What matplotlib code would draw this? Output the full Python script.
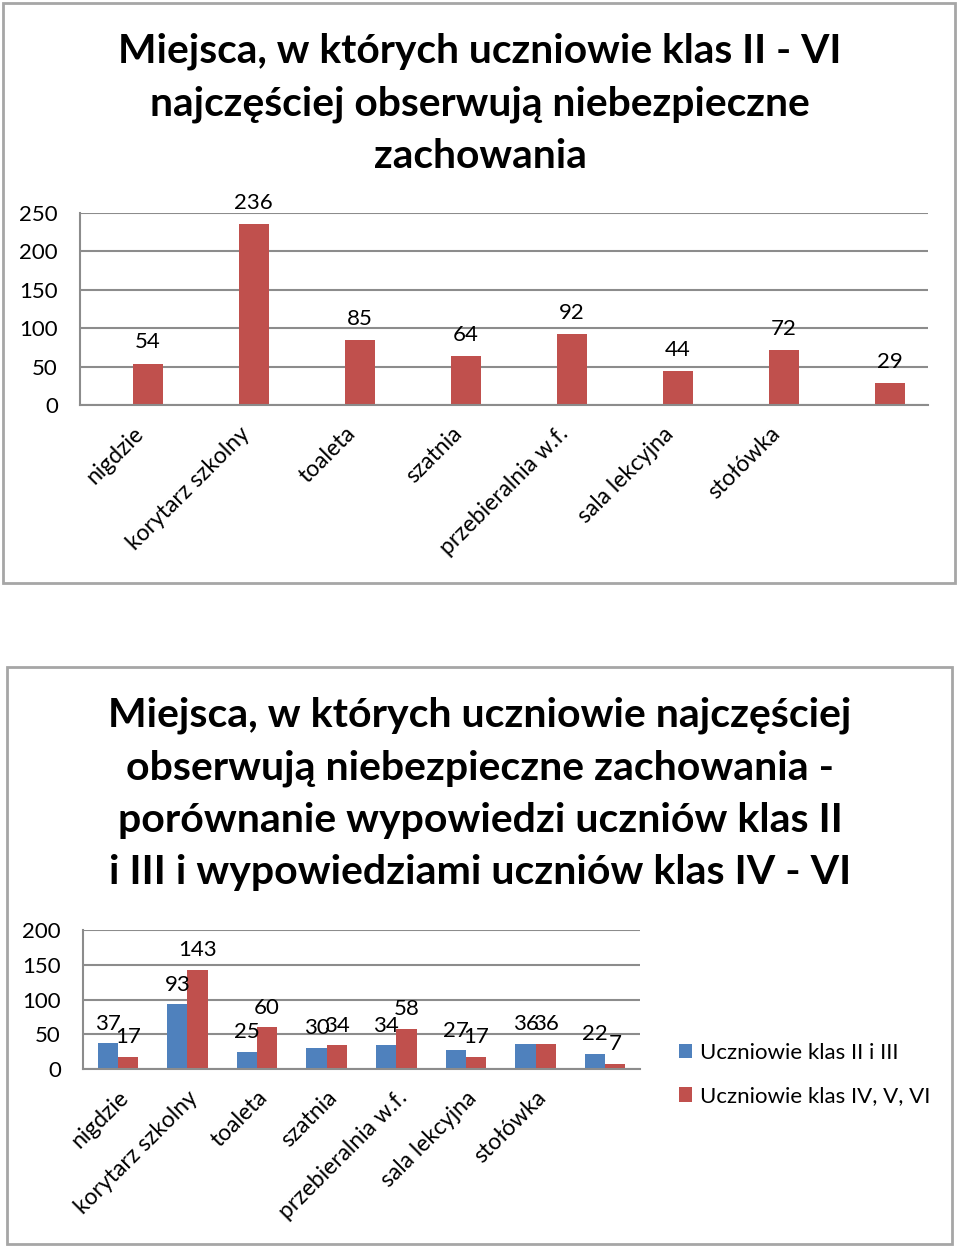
import matplotlib
matplotlib.use("Agg")
import matplotlib.pyplot as plt
from matplotlib.patches import Rectangle

plt.rcParams["font.family"] = ["Lato", "DejaVu Sans"]

W, H = 960, 1246

# data - chart 1
places_top = ["nigdzie", "korytarz szkolny", "toaleta", "szatnia",
              "przebieralnia w.f.", "sala lekcyjna", "stołówka", ""]
counts_top = [54, 236, 85, 64, 92, 44, 72, 29]

# data - chart 2
places_bottom = ["nigdzie", "korytarz szkolny", "toaleta", "szatnia",
                 "przebieralnia w.f.", "sala lekcyjna", "stołówka", ""]
klasy_2_3 = [37, 93, 25, 30, 34, 27, 36, 22]
klasy_4_6 = [17, 143, 60, 34, 58, 17, 36, 7]
series_names = ["Uczniowie klas II i III", "Uczniowie klas IV, V, VI"]

RED = "#C0504D"
BLUE = "#4F81BD"
GRID = "#8C8C8C"


def px_axes(fig, left, top, right, bottom):
    return fig.add_axes([left / W, 1 - bottom / H, (right - left) / W, (bottom - top) / H])


def style_axes(ax, ymax, step):
    ax.set_ylim(0, ymax)
    ax.set_yticks(range(0, ymax + 1, step))
    ax.grid(axis="y", color=GRID, lw=1.5)
    ax.set_axisbelow(True)
    for s in ["top", "right"]:
        ax.spines[s].set_visible(False)
    for s in ["left", "bottom"]:
        ax.spines[s].set_color(GRID)
        ax.spines[s].set_linewidth(1.5)
    ax.tick_params(length=0, labelsize=16, pad=16)
    ax.tick_params(axis="x", pad=13)


fig = plt.figure(figsize=(W / 100, H / 100), dpi=100)

# frames
fig.patches.append(Rectangle((3 / W, 1 - 583 / H), 952 / W, 580 / H, transform=fig.transFigure,
                             fill=False, ec="#A6A6A6", lw=2))
fig.patches.append(Rectangle((7 / W, 1 - 1244 / H), 945 / W, 577 / H, transform=fig.transFigure,
                             fill=False, ec="#A6A6A6", lw=2))

# chart 1 (bars sit right of the category centre, like an Excel cluster with an empty series)
fig.text(480 / W, 1 - 104 / H, "Miejsca, w których uczniowie klas II - VI\nnajczęściej obserwują niebezpieczne\nzachowania",
         ha="center", va="center", fontsize=29.3, fontweight="bold", linespacing=1.5)
ax1 = px_axes(fig, 80, 213, 928, 405)
x1 = list(range(len(counts_top)))
bw = 0.28
ax1.bar([i + bw / 2 for i in x1], counts_top, width=bw, color=RED)
ax1.set_xlim(-0.5, len(counts_top) - 0.5)
style_axes(ax1, 250, 50)
ax1.set_xticks(x1)
ax1.set_xticklabels(places_top, rotation=45, ha="right", va="top", rotation_mode="anchor", fontsize=16.5)
for xi, v in zip(x1, counts_top):
    ax1.annotate(str(v), (xi + bw / 2, v), xytext=(0, 8), textcoords="offset points",
                 ha="center", va="bottom", fontsize=16)

# chart 2
fig.text(480 / W, 1 - 794 / H,
         "Miejsca, w których uczniowie najczęściej\nobserwują niebezpieczne zachowania -\nporównanie wypowiedzi uczniów klas II\ni III i wypowiedziami uczniów klas IV - VI",
         ha="center", va="center", fontsize=29.5, fontweight="bold", linespacing=1.5)
ax2 = px_axes(fig, 83, 930, 640, 1069)
x2 = list(range(len(klasy_2_3)))
bw2 = 0.29
ax2.bar([i - bw2 / 2 for i in x2], klasy_2_3, width=bw2, color=BLUE, label=series_names[0])
ax2.bar([i + bw2 / 2 for i in x2], klasy_4_6, width=bw2, color=RED, label=series_names[1])
ax2.set_xlim(-0.5, len(x2) - 0.5)
style_axes(ax2, 200, 50)
ax2.set_xticks(x2)
ax2.set_xticklabels(places_bottom, rotation=45, ha="right", va="top", rotation_mode="anchor", fontsize=16.5)
for i in x2:
    ax2.annotate(str(klasy_2_3[i]), (i - bw2 / 2, klasy_2_3[i]), xytext=(0, 7), textcoords="offset points",
                 ha="center", va="bottom", fontsize=16)
    ax2.annotate(str(klasy_4_6[i]), (i + bw2 / 2, klasy_4_6[i]), xytext=(0, 7), textcoords="offset points",
                 ha="center", va="bottom", fontsize=16)
h, l = ax2.get_legend_handles_labels()
fig.legend(h, l, loc="upper left", bbox_to_anchor=(659 / W, 1 - 1023 / H), frameon=False,
           fontsize=16, handlelength=0.6, handleheight=0.6, handletextpad=0.35, labelspacing=1.05)

fig.savefig("out.png", dpi=100, facecolor="white")
